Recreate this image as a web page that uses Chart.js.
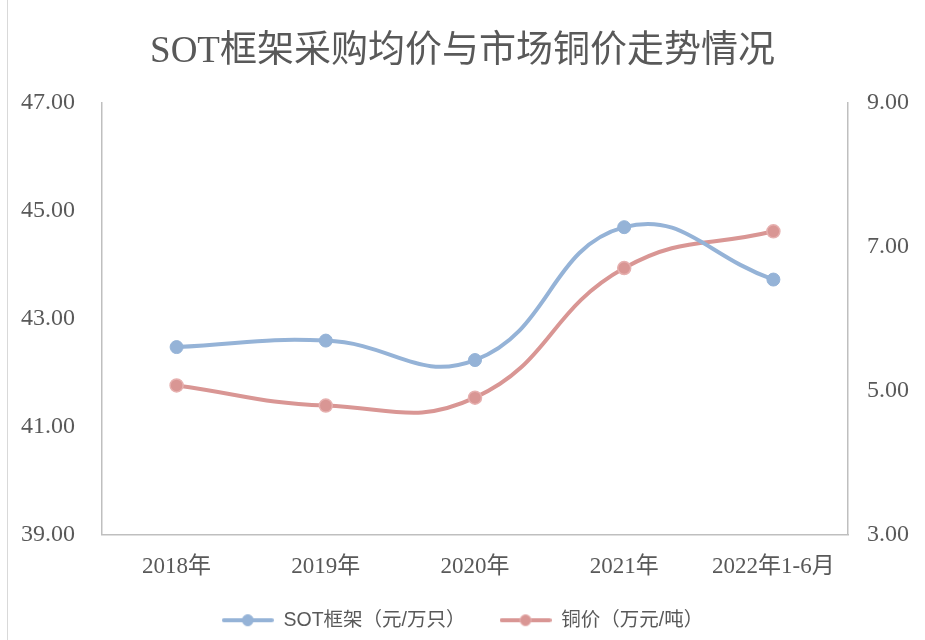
<!DOCTYPE html>
<html>
<head>
<meta charset="utf-8">
<script src="https://cdn.jsdelivr.net/npm/chart.js@4/dist/chart.umd.min.js"></script>
<style>
  html, body { margin: 0; padding: 0; background: #fff; }
  #wrap { position: relative; width: 925px; height: 640px; }
  #frame { position: absolute; left: 7px; top: 0; width: 1px; height: 640px; background: #d9d9d9; }
</style>
</head>
<body>
<div id="wrap">
  <canvas id="c" width="925" height="640"></canvas>
  <div id="frame"></div>
</div>
<script>
const categories = ['2018年', '2019年', '2020年', '2021年', '2022年1-6月'];
const sotPrice = [42.47, 42.59, 42.23, 44.69, 43.72];
const copperPrice = [5.07, 4.79, 4.90, 6.70, 7.21];
const seriesNames = ['SOT框架（元/万只）', '铜价（万元/吨）'];
const leftTicks = [39, 41, 43, 45, 47];
const rightTicks = [3, 5, 7, 9];

const BLUE = '#95B3D7';
const RED = '#D99694';
const RED_BORDER = '#E6B0AF';
const TEXT = '#595959';
const GRID = '#BFBFBF';
const SERIF = '"Liberation Serif", "Times New Roman", "Noto Sans CJK SC", serif';

function legendIcon(color, border) {
  const c = document.createElement('canvas');
  c.width = 52; c.height = 14;
  const g = c.getContext('2d');
  g.strokeStyle = color; g.lineWidth = 4; g.lineCap = 'round';
  g.beginPath(); g.moveTo(2, 7); g.lineTo(50, 7); g.stroke();
  g.fillStyle = color; g.strokeStyle = border; g.lineWidth = 1;
  g.beginPath(); g.arc(26, 7, 5.5, 0, Math.PI * 2); g.fill(); g.stroke();
  return c;
}

new Chart(document.getElementById('c'), {
  type: 'line',
  data: {
    labels: categories,
    datasets: [
      {
        label: seriesNames[0], data: sotPrice, yAxisID: 'y',
        borderColor: BLUE, backgroundColor: BLUE, borderWidth: 4,
        pointRadius: 6.5, pointBackgroundColor: BLUE, pointBorderColor: BLUE, pointBorderWidth: 1,
        tension: 0.45,
        pointStyle: 'circle'
      },
      {
        label: seriesNames[1], data: copperPrice, yAxisID: 'y1',
        borderColor: RED, backgroundColor: RED, borderWidth: 4,
        pointRadius: 6.5, pointBackgroundColor: RED, pointBorderColor: RED_BORDER, pointBorderWidth: 1.5,
        tension: 0.45,
        pointStyle: 'circle'
      }
    ]
  },
  options: {
    responsive: false,
    animation: false,
    layout: { padding: { left: 0, right: 0, top: 0, bottom: 0 } },
    plugins: {
      title: {
        display: true,
        text: 'SOT框架采购均价与市场铜价走势情况',
        color: TEXT,
        font: { family: SERIF, size: 37, weight: 'normal' },
        padding: { top: 30, bottom: 28 }
      },
      legend: {
        display: true,
        position: 'bottom',
        labels: {
          color: TEXT,
          font: { family: '"Liberation Sans", "Noto Sans CJK SC", sans-serif', size: 19.5 },
          usePointStyle: true,
          pointStyleWidth: 52,
          padding: 34,
          generateLabels: (chart) => chart.data.datasets.map((ds, i) => ({
            text: ds.label,
            pointStyle: legendIcon(ds.borderColor, i === 1 ? RED_BORDER : BLUE),
            fontColor: TEXT,
            hidden: false,
            datasetIndex: i,
            lineWidth: 0,
            strokeStyle: 'transparent',
            fillStyle: 'transparent'
          }))
        }
      },
      tooltip: { enabled: false }
    },
    scales: {
      x: {
        offset: true,
        grid: { display: false, drawTicks: false },
        border: { display: true, color: GRID, width: 1.5 },
        ticks: { color: TEXT, font: { family: SERIF, size: 23 }, padding: 19, maxRotation: 0, autoSkip: false },
        afterFit: (s) => { s.height = 42; }
      },
      y: {
        position: 'left',
        min: 39, max: 47,
        grid: { display: false, drawTicks: false },
        border: { display: true, color: GRID, width: 1.5 },
        afterBuildTicks: (s) => { s.ticks = leftTicks.map(v => ({ value: v })); },
        ticks: { color: TEXT, font: { family: SERIF, size: 24 }, padding: 27, callback: (v) => Number(v).toFixed(2) },
        afterFit: (s) => { s.width = 102; }
      },
      y1: {
        position: 'right',
        min: 3, max: 9,
        grid: { display: false, drawOnChartArea: false, drawTicks: true, tickLength: 7, color: GRID, tickWidth: 1.5 },
        border: { display: true, color: GRID, width: 1.5 },
        afterBuildTicks: (s) => { s.ticks = rightTicks.map(v => ({ value: v })); },
        ticks: { color: TEXT, font: { family: SERIF, size: 24 }, padding: 12, callback: (v) => Number(v).toFixed(2) },
        afterFit: (s) => { s.width = 77; }
      }
    }
  }
});
</script>
</body>
</html>
